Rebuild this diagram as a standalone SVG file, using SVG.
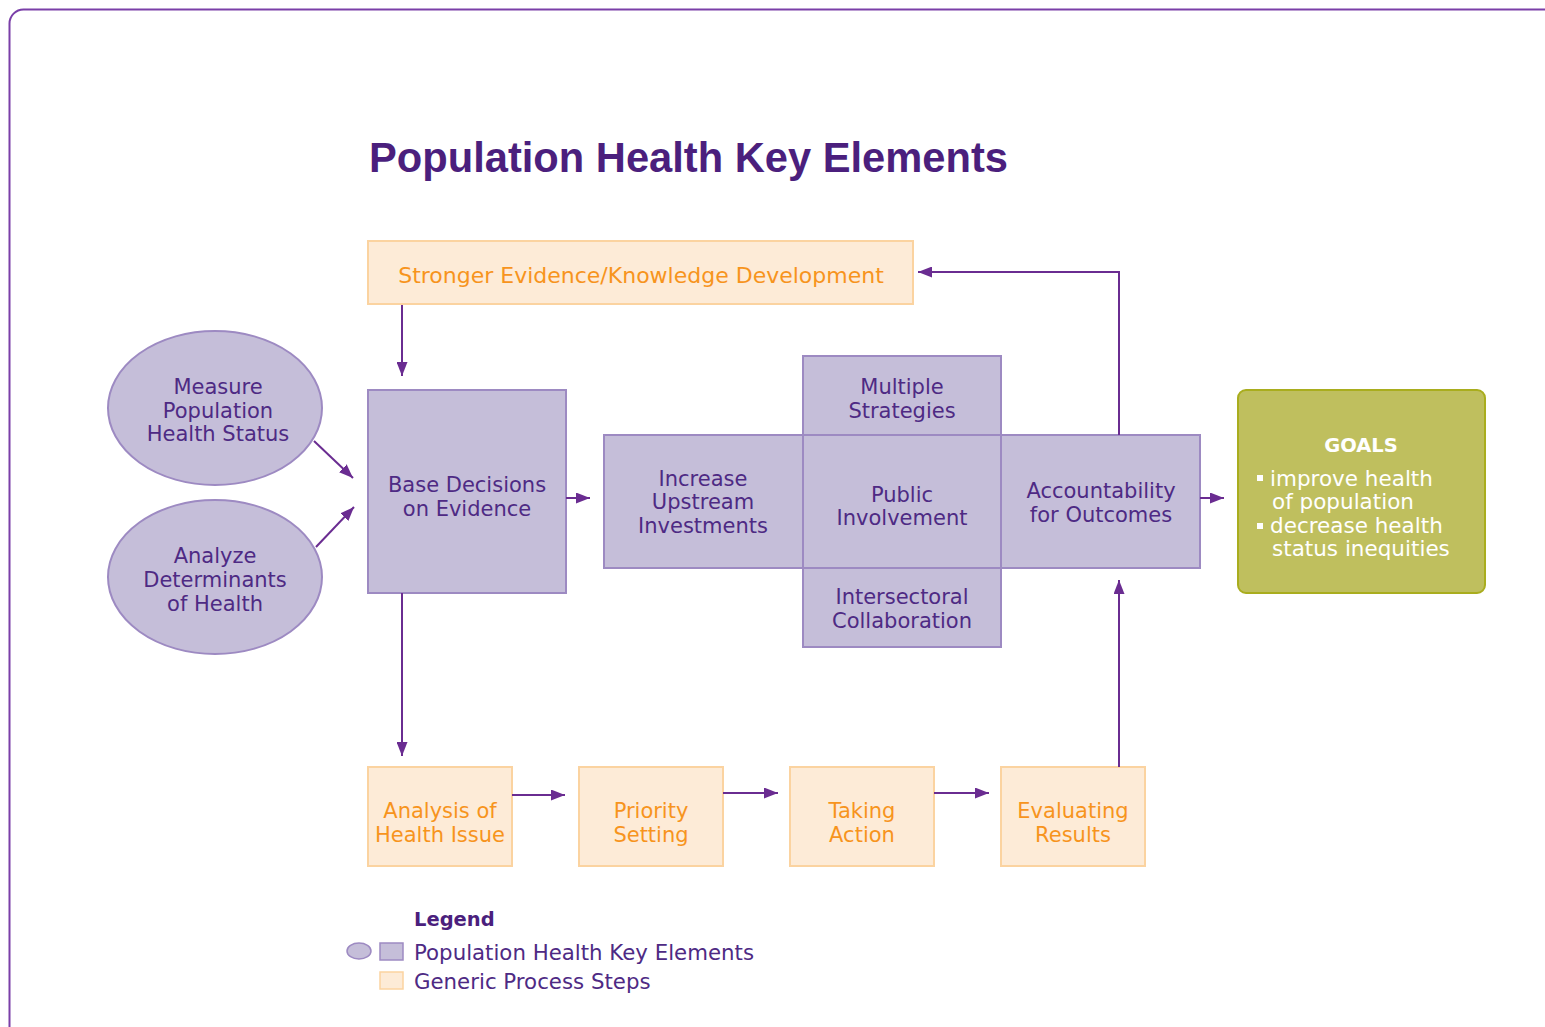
<svg xmlns="http://www.w3.org/2000/svg" width="1545" height="1027" viewBox="0 0 1545 1027">
<defs>
<marker id="ah" viewBox="0 0 14 11" refX="14" refY="5.5" markerWidth="14" markerHeight="11" orient="auto" markerUnits="userSpaceOnUse">
<path d="M0,0 L14,5.5 L0,11 z" fill="#6a2c91"/>
</marker>
<style>
.frame{fill:none;stroke:#7a3fa8;stroke-width:2}
.title{font-family:"Liberation Sans",Arial,sans-serif;font-weight:bold;font-size:42px;fill:#4b1f7d}
.pk{fill:#c5bed9;stroke:#9d8ac2;stroke-width:2}
.gp{fill:#fdebd7;stroke:#fbd3a0;stroke-width:2}
.goal{fill:#bfbf5e;stroke:#a9ad1e;stroke-width:2}
.pt{font-family:"DejaVu Sans",sans-serif;font-size:21px;fill:#4e2a84;text-anchor:middle}
.ot{font-family:"DejaVu Sans",sans-serif;font-size:21px;fill:#f7941d;text-anchor:middle}
.gt{font-family:"DejaVu Sans",sans-serif;font-size:21.5px;fill:#ffffff}
.gh{font-family:"DejaVu Sans",sans-serif;font-weight:bold;font-size:19.5px;fill:#ffffff;text-anchor:middle}
.lh{font-family:"DejaVu Sans",sans-serif;font-weight:bold;font-size:19.5px;fill:#4b1f7d}
.lt{font-family:"DejaVu Sans",sans-serif;font-size:21.3px;fill:#4e2a84}
.conn{fill:none;stroke:#6a2c91;stroke-width:2;marker-end:url(#ah)}
</style>
</defs>
<rect width="1545" height="1027" fill="#ffffff"/>
<rect class="frame" x="9.5" y="9.5" width="1570" height="1050" rx="14"/>
<text class="title" x="369" y="172" textLength="639" lengthAdjust="spacingAndGlyphs">Population Health Key Elements</text>

<g id="stronger-evidence">
<rect class="gp" x="368" y="241" width="545" height="63"/>
<text class="ot" x="641" y="283" style="font-size:22px">Stronger Evidence/Knowledge Development</text>
</g>

<g id="measure">
<ellipse class="pk" cx="215" cy="408" rx="107" ry="77"/>
<text class="pt" x="218" y="394">Measure</text>
<text class="pt" x="218" y="418">Population</text>
<text class="pt" x="218" y="441">Health Status</text>
</g>

<g id="analyze">
<ellipse class="pk" cx="215" cy="577" rx="107" ry="77"/>
<text class="pt" x="215" y="563">Analyze</text>
<text class="pt" x="215" y="587">Determinants</text>
<text class="pt" x="215" y="611">of Health</text>
</g>

<g id="base-decisions">
<rect class="pk" x="368" y="390" width="198" height="203"/>
<text class="pt" x="467" y="492">Base Decisions</text>
<text class="pt" x="467" y="516">on Evidence</text>
</g>

<g id="increase-upstream">
<rect class="pk" x="604" y="435" width="199" height="133"/>
<text class="pt" x="703" y="486">Increase</text>
<text class="pt" x="703" y="509">Upstream</text>
<text class="pt" x="703" y="533">Investments</text>
</g>

<g id="multiple-strategies">
<rect class="pk" x="803" y="356" width="198" height="79"/>
<text class="pt" x="902" y="394">Multiple</text>
<text class="pt" x="902" y="418">Strategies</text>
</g>

<g id="public-involvement">
<rect class="pk" x="803" y="435" width="198" height="133"/>
<text class="pt" x="902" y="502">Public</text>
<text class="pt" x="902" y="525">Involvement</text>
</g>

<g id="intersectoral">
<rect class="pk" x="803" y="568" width="198" height="79"/>
<text class="pt" x="902" y="604">Intersectoral</text>
<text class="pt" x="902" y="628">Collaboration</text>
</g>

<g id="accountability">
<rect class="pk" x="1001" y="435" width="199" height="133"/>
<text class="pt" x="1101" y="498">Accountability</text>
<text class="pt" x="1101" y="522">for Outcomes</text>
</g>

<g id="goals">
<rect class="goal" x="1238" y="390" width="247" height="203" rx="8"/>
<text class="gh" x="1361" y="452">GOALS</text>
<rect x="1257" y="475" width="6" height="6" fill="#ffffff"/>
<text class="gt" x="1270" y="486">improve health</text>
<text class="gt" x="1272" y="509">of population</text>
<rect x="1257" y="523" width="6" height="6" fill="#ffffff"/>
<text class="gt" x="1270" y="533">decrease health</text>
<text class="gt" x="1272" y="556">status inequities</text>
</g>

<g id="analysis">
<rect class="gp" x="368" y="767" width="144" height="99"/>
<text class="ot" x="440" y="818">Analysis of</text>
<text class="ot" x="440" y="842">Health Issue</text>
</g>

<g id="priority">
<rect class="gp" x="579" y="767" width="144" height="99"/>
<text class="ot" x="651" y="818">Priority</text>
<text class="ot" x="651" y="842">Setting</text>
</g>

<g id="taking-action">
<rect class="gp" x="790" y="767" width="144" height="99"/>
<text class="ot" x="862" y="818">Taking</text>
<text class="ot" x="862" y="842">Action</text>
</g>

<g id="evaluating">
<rect class="gp" x="1001" y="767" width="144" height="99"/>
<text class="ot" x="1073" y="818">Evaluating</text>
<text class="ot" x="1073" y="842">Results</text>
</g>

<g id="connectors">
<path class="conn" d="M402,305 V376"/>
<path class="conn" d="M314,441 L353,478"/>
<path class="conn" d="M316,547 L354,507"/>
<path class="conn" d="M566,498 H590"/>
<path class="conn" d="M1200,498 H1224"/>
<path class="conn" d="M1119,435 V272 H918"/>
<path class="conn" d="M1119,767 V580"/>
<path class="conn" d="M402,593 V756"/>
<path class="conn" d="M512,795 H565"/>
<path class="conn" d="M723,793 H778"/>
<path class="conn" d="M934,793 H989"/>
</g>

<g id="legend">
<text class="lh" x="414" y="926">Legend</text>
<ellipse cx="359" cy="951" rx="12" ry="8" fill="#c5bed9" stroke="#9d8ac2" stroke-width="1.5"/>
<rect x="380" y="943" width="23" height="17" fill="#c5bed9" stroke="#9d8ac2" stroke-width="1.5"/>
<text class="lt" x="414" y="960">Population Health Key Elements</text>
<rect x="380" y="972" width="23" height="17" fill="#fdebd7" stroke="#fbd3a0" stroke-width="1.5"/>
<text class="lt" x="414" y="989">Generic Process Steps</text>
</g>
</svg>
